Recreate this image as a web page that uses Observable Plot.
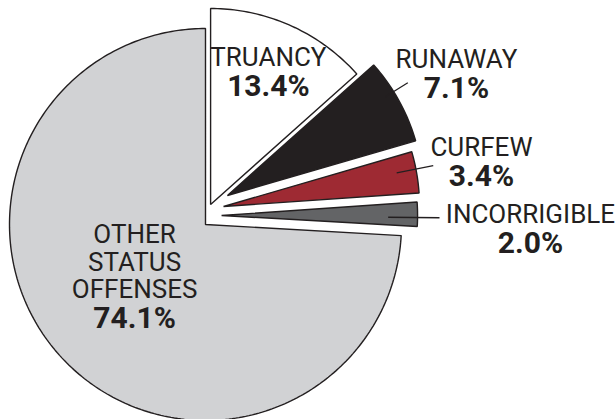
<!DOCTYPE html>
<html><head><meta charset="utf-8">
<script src="https://cdn.jsdelivr.net/npm/d3@7"></script>
<script src="https://cdn.jsdelivr.net/npm/@observablehq/plot@0.6"></script>
<style>html,body{margin:0;padding:0;background:#fff;} svg{display:block}</style>
</head><body><div id="chart"></div>
<script>
// ---- data ----
const categories = ["TRUANCY", "RUNAWAY", "CURFEW", "INCORRIGIBLE", "OTHER STATUS OFFENSES"];
const values = [13.4, 7.1, 3.4, 2.0, 74.1];
const nameLabels = ["TRUANCY", "RUNAWAY", "CURFEW", "INCORRIGIBLE", "OTHER\nSTATUS\nOFFENSES"];
const valueLabels = ["13.4%", "7.1%", "3.4%", "2.0%", "74.1%"];

// ---- style / layout ----
const colors = ["#ffffff", "#231f20", "#9e2a33", "#636466", "#d1d2d4"];
const ink = "#231f20";
// explode offset of each slice (in pie radii, y up)
const explode = [[0.026, 0.102], [0.112, 0.148], [0.092, 0.092], [0.082, 0.046], [0, 0]];
// label anchor: [angle clockwise from north (deg), distance in pie radii] from pie centre
const labelPolar = [[21.7, 0.868], [58.1, 1.508], [76.0, 1.451], [89.8, 1.658], [223.8, 0.523]];
// leader lines: [angle, r0, r1] from the exploded slice tip
const leaders = [null, [58, 0.95, 1.085], [79, 0.9, 1.09], [90.6, 0.85, 1.112], null];

const W = 616, H = 419, R = 196, CX = 205, CY = 224;
const rad = d => d * Math.PI / 180;
const pol = (a, r, o = [0, 0]) => ({x: o[0] + r * Math.sin(rad(a)), y: o[1] + r * Math.cos(rad(a))});

const total = d3.sum(values);
let acc = 0;
const slices = categories.map((c, i) => {
  const a0 = acc / total * 360;
  acc += values[i];
  const a1 = acc / total * 360;
  const o = explode[i];
  const pts = [{x: o[0], y: o[1]}];
  const n = Math.max(2, Math.ceil(a1 - a0));
  for (let k = 0; k <= n; k++) pts.push(pol(a0 + (a1 - a0) * k / n, 1, o));
  return {name: c, i, a0, a1, o, pts};
});

const labels = slices.map(s => {
  const p = pol(labelPolar[s.i][0], labelPolar[s.i][1]);
  return {x: p.x, y: p.y, name: nameLabels[s.i], value: valueLabels[s.i]};
});
const leaderData = slices.filter(s => leaders[s.i]).map(s => {
  const [a, r0, r1] = leaders[s.i];
  const p0 = pol(a, r0, s.o), p1 = pol(a, r1, s.o);
  return {x1: p0.x, y1: p0.y, x2: p1.x, y2: p1.y};
});

const font = "Roboto, 'Liberation Sans', Arial, sans-serif";
const chart = Plot.plot({
  width: W, height: H,
  margin: 0,
  x: {domain: [-CX / R, (W - CX) / R], range: [0, W], axis: null},
  y: {domain: [-(H - CY) / R, CY / R], range: [H, 0], axis: null},
  style: {fontFamily: font, background: "#fff", color: ink},
  marks: [
    ...slices.map(s => Plot.line(s.pts, {
      x: "x", y: "y", fill: colors[s.i], stroke: ink, strokeWidth: 1.4,
      curve: "linear-closed", strokeLinejoin: "miter"
    })),
    Plot.link(leaderData, {x1: "x1", y1: "y1", x2: "x2", y2: "y2", stroke: ink, strokeWidth: 1.3}),
    Plot.text(labels, {x: "x", y: "y", text: "name", fontSize: 26, lineAnchor: "bottom",
      lineHeight: 1.07, textAnchor: "middle", fill: ink}),
    Plot.text(labels, {x: "x", y: "y", text: "value", fontSize: 30, fontWeight: "bold",
      lineAnchor: "bottom", dy: 30, textAnchor: "middle", fill: ink})
  ]
});
document.getElementById("chart").appendChild(chart);
</script>
</body></html>
